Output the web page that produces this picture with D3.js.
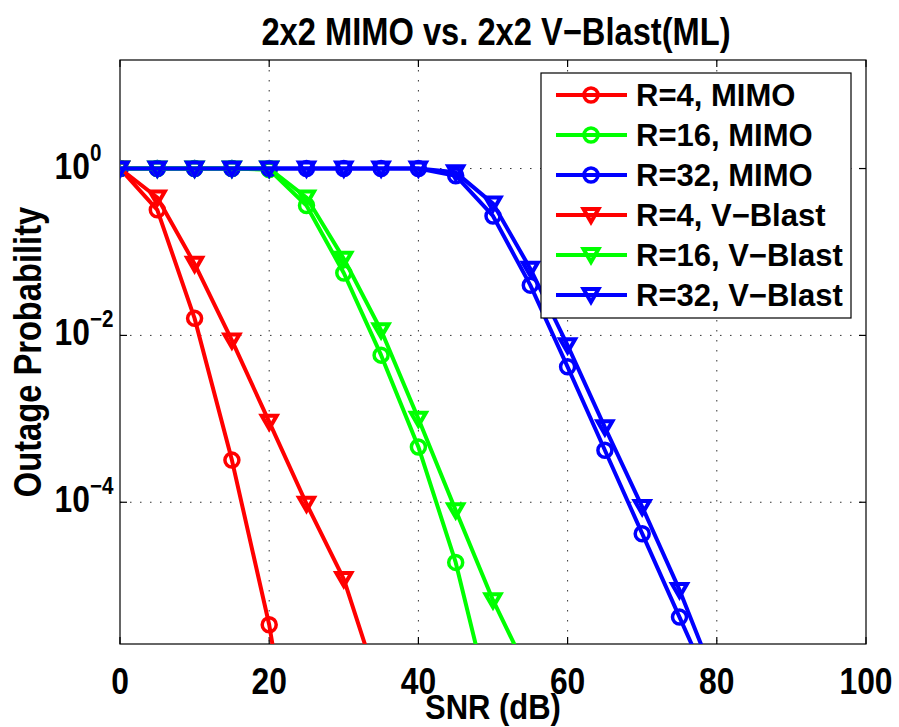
<!DOCTYPE html>
<html>
<head>
<meta charset="utf-8">
<script src="https://cdn.jsdelivr.net/npm/d3@7"></script>
<style>
  body { margin: 0; background: #fff; }
  svg { display: block; }
  text { font-family: "Liberation Sans", Arial, Helvetica, sans-serif; font-weight: bold; fill: #000; }
</style>
</head>
<body>
<svg id="chart" width="899" height="727"></svg>
<script>
// SNR grid, dB
const snr = [0, 5, 10, 15, 20, 25, 30, 35, 40, 45, 50, 55, 60, 65, 70, 75, 80];

// outage probability (last point of each lies below the axis)
const mimoR4 = [1, 0.32, 0.016, 3.2e-4, 3.4e-6, 7e-9];
const mimoR16 = [1, 1, 1, 1, 0.97, 0.36, 0.056, 0.0058, 4.6e-4, 1.9e-5, 2.8e-7];
const mimoR32 = [1, 1, 1, 1, 1, 1, 1, 1, 1, 0.82, 0.27, 0.040, 0.0042, 4.2e-4, 4.2e-5, 4.2e-6, 4.2e-7];
const vbR4 = [1, 0.45, 0.072, 0.0087, 9.2e-4, 9.6e-5, 1.2e-5, 5e-7];
const vbR16 = [1, 1, 1, 1, 1, 0.45, 0.083, 0.0115, 0.001, 8e-5, 6.7e-6, 8e-7];
const vbR32 = [1, 1, 1, 1, 1, 1, 1, 1, 1, 0.9, 0.38, 0.063, 0.0076, 7.9e-4, 8.8e-5, 8.9e-6, 6.6e-7];

const legendLabels = ["R=4, MIMO", "R=16, MIMO", "R=32, MIMO", "R=4, V\u2212Blast", "R=16, V\u2212Blast", "R=32, V\u2212Blast"];
const xTicks = [0, 20, 40, 60, 80, 100];
const yTicks = [1, 1e-2, 1e-4];
const yTickExp = ["0", "\u22122", "\u22124"];

const series = [
    { values: mimoR4, color: "#ff0000", marker: "circle" },
    { values: mimoR16, color: "#00ff00", marker: "circle" },
    { values: mimoR32, color: "#0000ff", marker: "circle" },
    { values: vbR4, color: "#ff0000", marker: "tri" },
    { values: vbR16, color: "#00ff00", marker: "tri" },
    { values: vbR32, color: "#0000ff", marker: "tri" },
];

const svg = d3.select("#chart");
const pLeft = 120, pRight = 866, pTop = 60, pBottom = 644;
const SX = 0.86;   // the axis texts are drawn in a narrow face

const x = d3.scaleLinear().domain([0, 100]).range([pLeft, pRight]);
const y = d3.scaleLog().domain([2e-6, 20]).range([pBottom, pTop]);

// narrow text: scale only horizontally
let ntext = (x0, y0, str, size, anchor, rot) => svg.append("text")
    .attr("transform", `translate(${x0},${y0})${rot ? " rotate(-90)" : ""} scale(${SX},1)`)
    .attr("text-anchor", anchor)
    .attr("font-size", size)
    .text(str);

svg.append("defs").append("clipPath").attr("id", "plotClip")
    .append("rect")
    .attr("x", pLeft).attr("y", pTop)
    .attr("width", pRight - pLeft).attr("height", pBottom - pTop);

// grid
const grid = svg.append("g")
    .attr("stroke", "#333")
    .attr("stroke-width", 1)
    .attr("stroke-dasharray", "1.5,8.5");
xTicks.slice(1, -1).forEach(t => {
    grid.append("line")
        .attr("x1", x(t)).attr("x2", x(t))
        .attr("y1", pTop).attr("y2", pBottom);
});
yTicks.forEach(t => {
    grid.append("line")
        .attr("x1", pLeft).attr("x2", pRight)
        .attr("y1", y(t)).attr("y2", y(t));
});

// axes box + inner ticks
const axes = svg.append("g").attr("stroke", "#000").attr("stroke-width", 1.2);
axes.append("rect")
    .attr("x", pLeft).attr("y", pTop)
    .attr("width", pRight - pLeft).attr("height", pBottom - pTop)
    .attr("fill", "none");
xTicks.forEach(t => {
    axes.append("line").attr("x1", x(t)).attr("x2", x(t)).attr("y1", pBottom).attr("y2", pBottom - 7);
    axes.append("line").attr("x1", x(t)).attr("x2", x(t)).attr("y1", pTop).attr("y2", pTop + 7);
});
yTicks.forEach(t => {
    axes.append("line").attr("x1", pLeft).attr("x2", pLeft + 7).attr("y1", y(t)).attr("y2", y(t));
    axes.append("line").attr("x1", pRight).attr("x2", pRight - 7).attr("y1", y(t)).attr("y2", y(t));
});

// tick labels
xTicks.forEach(t => ntext(x(t), 694, t, 37, "middle"));

yTicks.forEach((t, i) => {
    ntext(90, y(t) + 10, "10", 37, "end");
    ntext(90, y(t) - 8, yTickExp[i], 24, "start");
});

// lines + markers
const line = d3.line()
    .x((d, i) => x(snr[i]))
    .y(d => y(d));

const plot = svg.append("g").attr("clip-path", "url(#plotClip)");

const tri = "M-7.5,-6L7.5,-6L0,7Z";

function drawMarker(g, kind, color) {
    if (kind === "circle") {
        g.append("circle").attr("r", 7)
            .attr("fill", "none").attr("stroke", color).attr("stroke-width", 3.5);
    } else {
        g.append("path").attr("d", tri)
            .attr("fill", "none").attr("stroke", color).attr("stroke-width", 4)
            .attr("stroke-linejoin", "miter");
    }
}

series.forEach(s => {
    plot.append("path")
        .attr("d", line(s.values))
        .attr("fill", "none")
        .attr("stroke", s.color)
        .attr("stroke-width", 4)
        .attr("stroke-linejoin", "round");
    s.values.forEach((v, i) => {
        const g = plot.append("g")
            .attr("transform", `translate(${x(snr[i])},${y(v)})`);
        drawMarker(g, s.marker, s.color);
    });
});

// legend
const lg = svg.append("g");
lg.append("rect")
    .attr("x", 541).attr("y", 73)
    .attr("width", 310).attr("height", 245)
    .attr("fill", "#fff").attr("stroke", "#000").attr("stroke-width", 1.2);
series.forEach((s, i) => {
    const cy = 95 + i * 40;
    lg.append("line")
        .attr("x1", 556).attr("x2", 627)
        .attr("y1", cy).attr("y2", cy)
        .attr("stroke", s.color).attr("stroke-width", 4);
    drawMarker(lg.append("g").attr("transform", `translate(591,${cy})`), s.marker, s.color);
    lg.append("text")
        .attr("x", 636).attr("y", cy + 11)
        .attr("font-size", 31)
        .text(legendLabels[i]);
});

// title and axis labels
ntext(496, 45, "2x2 MIMO vs. 2x2 V\u2212Blast(ML)", 38, "middle");
ntext(493, 719, "SNR (dB)", 36, "middle");
ntext(41, (pTop + pBottom) / 2, "Outage Probability", 38, "middle", true);
</script>
</body>
</html>
